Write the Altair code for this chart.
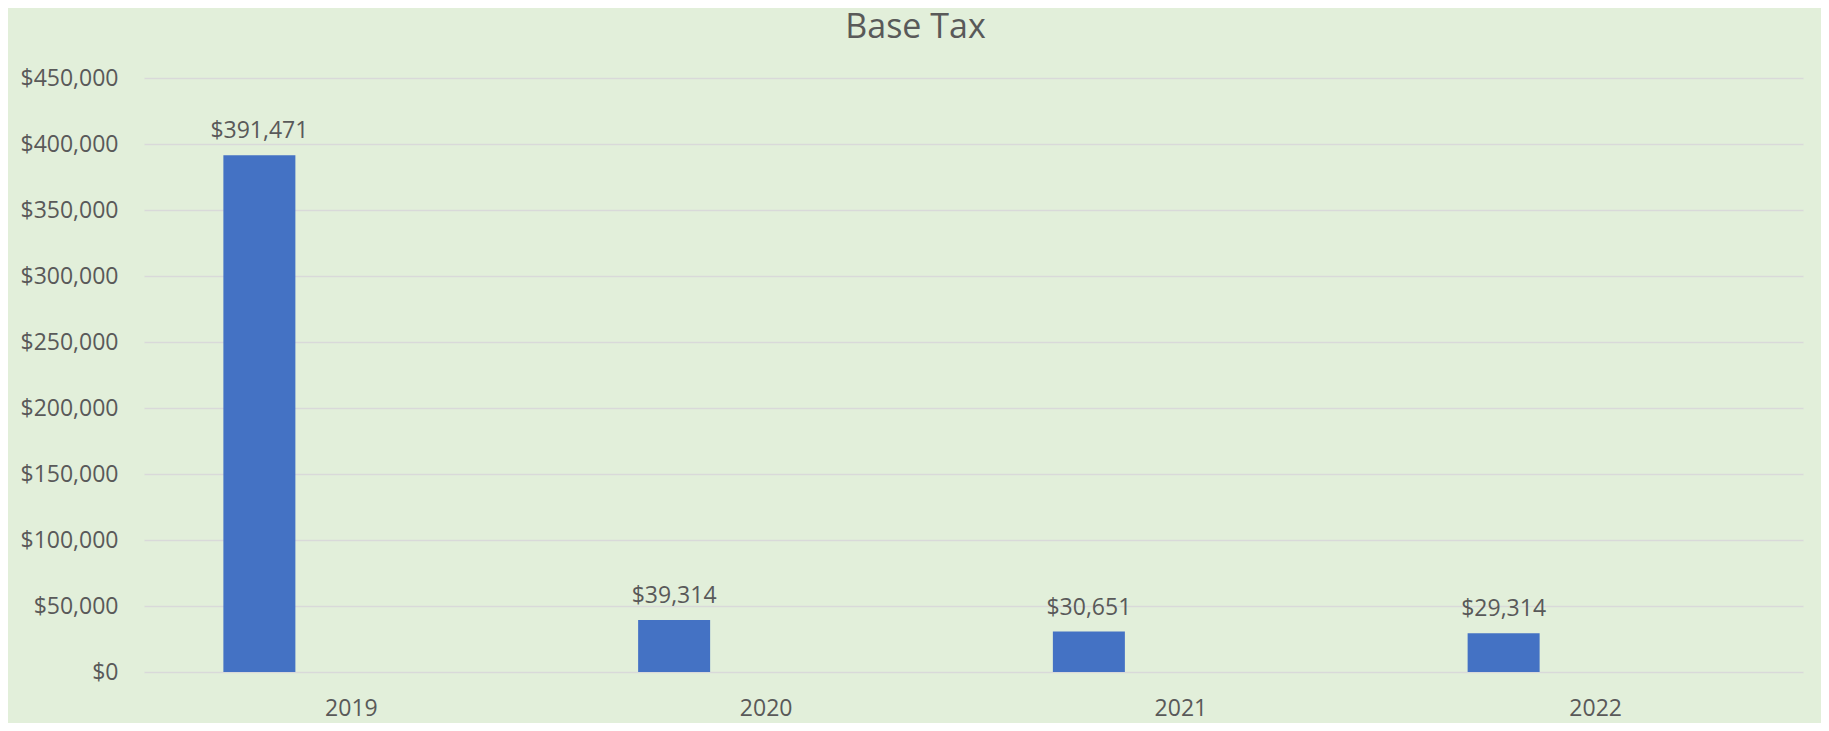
import altair as alt
import pandas as pd

years = ["2019", "2020", "2021", "2022"]
base_tax = [391471, 39314, 30651, 29314]
y_ticks = [0, 50000, 100000, 150000, 200000, 250000, 300000, 350000, 400000, 450000]

df = pd.DataFrame({"Year": years, "Base Tax": base_tax})

FONT = "Open Sans"
TEXT = "#595959"

x = alt.X("Year:N", sort=years, title=None,
          scale=alt.Scale(paddingInner=0, paddingOuter=0),
          axis=alt.Axis(labelAngle=0, ticks=False, domain=False, grid=False,
                        labelFont=FONT, labelFontSize=23, labelColor=TEXT,
                        labelPadding=25))
y = alt.Y("Base Tax:Q", title=None,
          scale=alt.Scale(domain=[0, 450000], nice=False),
          axis=alt.Axis(values=y_ticks, format="$,.0f", ticks=False, domain=False,
                        grid=True, gridColor="#D9D9D9", gridWidth=1.5,
                        labelFont=FONT, labelFontSize=23, labelColor=TEXT,
                        labelPadding=26))

bars = alt.Chart(df).mark_bar(color="#4472C4", size=72, xOffset=-92).encode(x=x, y=y)
labels = alt.Chart(df).mark_text(font=FONT, fontSize=23, color=TEXT, baseline="alphabetic",
                                 dy=-17, xOffset=-92).encode(
    x=alt.X("Year:N", sort=years),
    y=alt.Y("Base Tax:Q"),
    text=alt.Text("Base Tax:Q", format="$,.0f"))

chart = (bars + labels).properties(
    width=1659, height=594,
    title=alt.TitleParams("Base Tax", font=FONT, fontSize=34, fontWeight="normal",
                          color=TEXT, anchor="middle", frame="group", dx=-58,
                          offset=22),
    autosize=alt.AutoSizeParams(type="none"),
    padding={"left": 136, "top": 70, "right": 18, "bottom": 51},
    background="#E2EFDA",
).configure_view(stroke=None)

chart.save("out.html", embed_options={"renderer": "svg", "actions": False})
